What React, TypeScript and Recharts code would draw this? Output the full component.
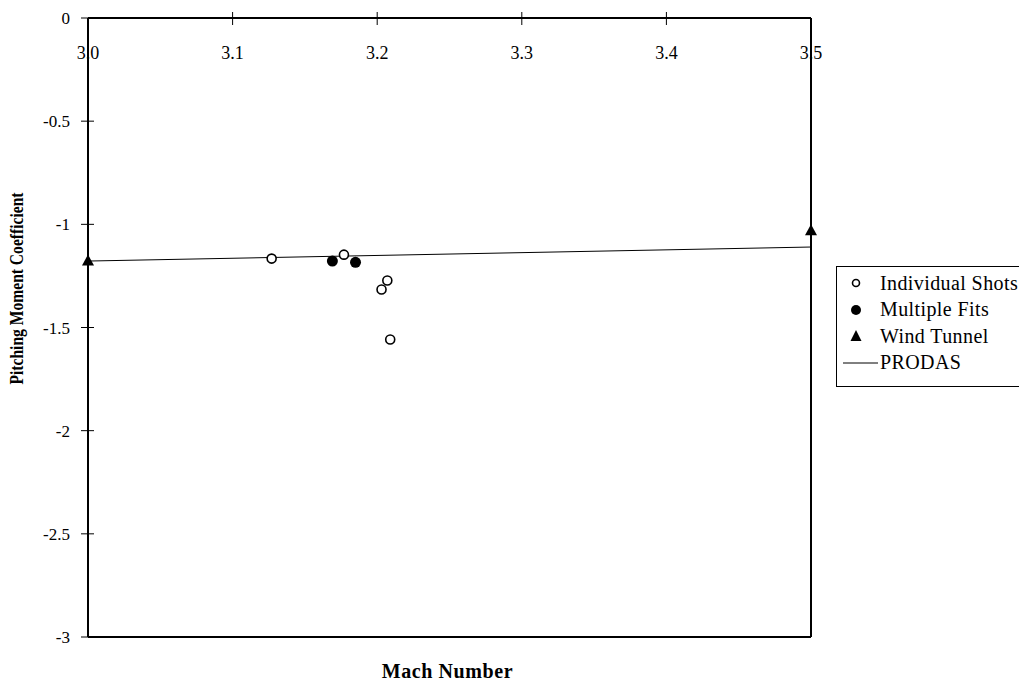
import { ComposedChart, Line, Scatter, XAxis, YAxis, Label } from 'recharts'

const individualShots = [
  { x: 3.127, y: -1.166 },
  { x: 3.177, y: -1.147 },
  { x: 3.203, y: -1.316 },
  { x: 3.207, y: -1.272 },
  { x: 3.209, y: -1.558 },
]
const multipleFits = [
  { x: 3.169, y: -1.178 },
  { x: 3.185, y: -1.184 },
]
const windTunnel = [
  { x: 3.0, y: -1.18 },
  { x: 3.5, y: -1.034 },
]
const prodas = [
  { x: 3.0, y: -1.178 },
  { x: 3.5, y: -1.11 },
]
const xTicks = [3.0, 3.1, 3.2, 3.3, 3.4, 3.5]
const yTicks = [0, -0.5, -1, -1.5, -2, -2.5, -3]

const FONT = '"Liberation Serif", "Times New Roman", serif'

const OpenDot = (p: any) => (
  <circle cx={p.cx} cy={p.cy} r={4.5} fill="#fff" stroke="#000" strokeWidth={1.6} />
)
const FilledDot = (p: any) => <circle cx={p.cx} cy={p.cy} r={5.5} fill="#000" />
const Tri = (p: any) => (
  <path
    d={`M${p.cx},${p.cy - 7} L${p.cx + 6},${p.cy + 4} L${p.cx - 6},${p.cy + 4} Z`}
    fill="#000"
  />
)

const TopTick = (p: any) => {
  const v = p.payload.value
  const edge = v === 3.0 || v === 3.5
  return (
    <g>
      {!edge && <line x1={p.x} x2={p.x} y1={12} y2={25} stroke="#000" strokeWidth={1} />}
      <text x={p.x} y={59} textAnchor="middle" fontFamily={FONT} fontSize={18} fill="#000">
        {v.toFixed(1)}
      </text>
    </g>
  )
}

const LeftTick = (p: any) => {
  const v = p.payload.value
  const edge = v === 0 || v === -3
  return (
    <g>
      <line x1={81} x2={edge ? 88 : 94} y1={p.y} y2={p.y} stroke="#000" strokeWidth={1} />
      <text
        x={70}
        y={p.y}
        dy={6}
        textAnchor="end"
        fontFamily={FONT}
        fontSize={17}
        fill="#000"
      >
        {String(v)}
      </text>
    </g>
  )
}

const legendItems = [
  { name: 'Individual Shots', kind: 'open' },
  { name: 'Multiple Fits', kind: 'filled' },
  { name: 'Wind Tunnel', kind: 'tri' },
  { name: 'PRODAS', kind: 'line' },
]

function LegendBox() {
  return (
    <div
      style={{
        position: 'absolute',
        left: 836,
        top: 266,
        width: 200,
        height: 121,
        border: '1px solid #000',
        background: '#fff',
        boxSizing: 'border-box',
        paddingTop: 3,
        fontFamily: FONT,
        fontSize: 20,
        letterSpacing: 0.4,
        color: '#000',
      }}
    >
      {legendItems.map((it) => (
        <div key={it.name} style={{ display: 'flex', alignItems: 'center', height: 26.5 }}>
          <svg width={42} height={16} style={{ flex: 'none' }}>
            {it.kind === 'open' && (
              <circle cx={19} cy={8} r={3.5} fill="#fff" stroke="#000" strokeWidth={1.6} />
            )}
            {it.kind === 'filled' && <circle cx={19} cy={8} r={5} fill="#000" />}
            {it.kind === 'tri' && <path d="M19,2 L24.5,13 L13.5,13 Z" fill="#000" />}
            {it.kind === 'line' && <line x1={6} x2={41} y1={8} y2={8} stroke="#000" strokeWidth={1} />}
          </svg>
          <span style={{ whiteSpace: 'nowrap', marginLeft: 1 }}>{it.name}</span>
        </div>
      ))}
    </div>
  )
}

export default function App() {
  return (
    <div
      style={{
        position: 'absolute',
        left: 0,
        top: 0,
        width: 1019,
        height: 681,
        background: '#fff',
        overflow: 'hidden',
      }}
    >
      <ComposedChart
        width={1019}
        height={681}
        margin={{ top: 0, right: 207, bottom: 0, left: 0 }}
      >
        <XAxis
          xAxisId="top"
          orientation="top"
          type="number"
          dataKey="x"
          domain={[3.0, 3.5]}
          ticks={xTicks}
          height={18}
          axisLine={{ stroke: '#000', strokeWidth: 2 }}
          tickLine={false}
          tick={<TopTick />}
          interval={0}
        />
        <XAxis
          xAxisId="bottom"
          orientation="bottom"
          type="number"
          dataKey="x"
          domain={[3.0, 3.5]}
          height={44}
          axisLine={{ stroke: '#000', strokeWidth: 2 }}
          tick={false}
          tickLine={false}
        >
          <Label
            content={({ viewBox }: any) => (
              <text
                x={viewBox.x + viewBox.width / 2 - 2}
                y={viewBox.y + 41}
                textAnchor="middle"
                fontFamily={FONT}
                fontSize={20}
                letterSpacing={0.6}
                fontWeight="bold"
                fill="#000"
              >
                Mach Number
              </text>
            )}
          />
        </XAxis>
        <YAxis
          yAxisId="left"
          type="number"
          domain={[-3, 0]}
          ticks={yTicks}
          width={88}
          interval={0}
          axisLine={{ stroke: '#000', strokeWidth: 2 }}
          tickLine={false}
          tick={<LeftTick />}
        >
          <Label
            content={({ viewBox }: any) => (
              <text
                x={0}
                y={0}
                transform={`translate(23, ${viewBox.y + viewBox.height / 2 - 39}) rotate(-90) scale(0.82, 1)`}
                textAnchor="middle"
                fontFamily={FONT}
                fontSize={19}
                fontWeight="bold"
                fill="#000"
              >
                Pitching Moment Coefficient
              </text>
            )}
          />
        </YAxis>
        <YAxis
          yAxisId="right"
          orientation="right"
          type="number"
          domain={[-3, 0]}
          width={1}
          axisLine={{ stroke: '#000', strokeWidth: 2 }}
          tick={false}
          tickLine={false}
        />
        <Line
          xAxisId="top"
          yAxisId="left"
          data={prodas}
          dataKey="y"
          stroke="#000"
          strokeWidth={1}
          dot={false}
          isAnimationActive={false}
          name="PRODAS"
        />
        <Scatter
          xAxisId="top"
          yAxisId="left"
          data={individualShots}
          dataKey="y"
          shape={OpenDot}
          isAnimationActive={false}
          name="Individual Shots"
        />
        <Scatter
          xAxisId="top"
          yAxisId="left"
          data={multipleFits}
          dataKey="y"
          shape={FilledDot}
          isAnimationActive={false}
          name="Multiple Fits"
        />
        <Scatter
          xAxisId="top"
          yAxisId="left"
          data={windTunnel}
          dataKey="y"
          shape={Tri}
          isAnimationActive={false}
          name="Wind Tunnel"
        />
      </ComposedChart>
      <LegendBox />
    </div>
  )
}
